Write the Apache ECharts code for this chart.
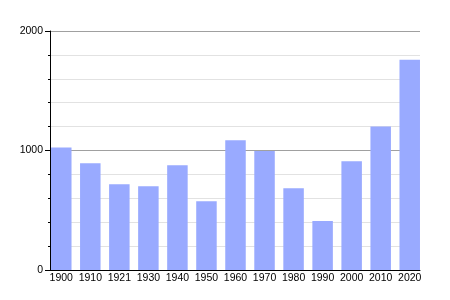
<!DOCTYPE html>
<html><head><meta charset="utf-8">
<script src="https://cdn.jsdelivr.net/npm/echarts@6/dist/echarts.min.js"></script>
<style>html,body{margin:0;padding:0;background:#fff}#c{width:450px;height:300px}</style>
</head><body><div id="c"></div>
<script>
const categories = ['1900','1910','1921','1930','1940','1950','1960','1970','1980','1990','2000','2010','2020'];
const population = [1026, 893, 718, 701, 876, 576, 1085, 995, 684, 409, 909, 1201, 1760];
const yTicks = [0, 1000, 2000];

const chart = echarts.init(document.getElementById('c'), null, {renderer:'canvas'});
const font = {fontFamily:'Liberation Sans, Arial, sans-serif', fontSize:10.5, color:'#000'};
chart.setOption({
  animation:false,
  backgroundColor:'#fff',
  grid:[
    {left:50, right:30, top:31, bottom:30},
    {left:46.75, right:25.75, top:31, bottom:30}
  ],
  xAxis:[
    {gridIndex:0, type:'category', data:categories, axisLabel:{show:false}, axisTick:{show:false},
     axisLine:{lineStyle:{color:'#000', width:1}}, z:3},
    {gridIndex:1, type:'category', data:categories, axisLine:{show:false}, axisTick:{show:false},
     axisLabel:Object.assign({margin:3, interval:0}, font)}
  ],
  yAxis:[
    {gridIndex:0, type:'value', min:yTicks[0], max:yTicks[yTicks.length-1], interval:1000,
     axisLine:{show:true, lineStyle:{color:'#000', width:1}},
     axisTick:{show:true, length:5, lineStyle:{color:'#000'}},
     minorTick:{show:true, splitNumber:5, length:2, lineStyle:{color:'#000'}},
     splitLine:{show:true, lineStyle:{color:'#a0a0a0', width:1}},
     minorSplitLine:{show:true, lineStyle:{color:'#e2e2e2', width:1}},
     axisLabel:Object.assign({margin:7, formatter:v => String(v)}, font), z:0},
    {gridIndex:1, type:'value', min:0, max:2000, show:false}
  ],
  series:[{
    type:'bar', xAxisIndex:1, yAxisIndex:1, data:population, barWidth:20.5,
    itemStyle:{color:'#99aaff'}, z:2
  }]
});
</script></body></html>
